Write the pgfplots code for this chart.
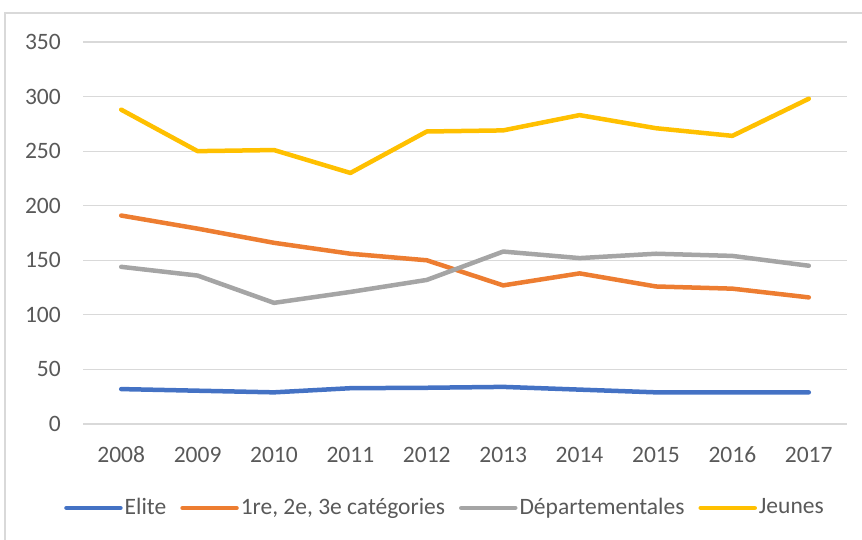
\documentclass[border=0pt]{standalone}
\usepackage{pgfplots}
\pgfplotsset{compat=1.18}
\usepackage{fontspec}
\setmainfont{Carlito}
\definecolor{cblue}{HTML}{4472C4}
\definecolor{corange}{HTML}{ED7D31}
\definecolor{cgray}{HTML}{A5A5A5}
\definecolor{cyellow}{HTML}{FFC000}
\definecolor{cgrid}{HTML}{D9D9D9}
\definecolor{ctext}{HTML}{595959}
\begin{document}
\fontsize{23.5bp}{28bp}\selectfont
\begin{tikzpicture}
\useasboundingbox (0bp,0bp) rectangle (862bp,540bp);
\draw[cgrid, line width=1.5bp] (5bp,0bp) -- (5bp,527bp) -- (862bp,527bp);
\begin{axis}[
  at={(83bp,116bp)}, anchor=south west,
  scale only axis, width=764bp, height=382bp,
  xmin=2007.5, xmax=2017.5, ymin=0, ymax=350,
  xtick={2008,...,2017}, ytick={0,50,...,350},
  /pgf/number format/assume math mode=true,
  /pgf/number format/1000 sep={},
  axis line style={draw=none},
  major tick length=0pt,
  ymajorgrids, grid style={cgrid, line width=1.2bp},
  tick label style={text=ctext, font=\fontsize{23.5bp}{28bp}\selectfont},
  yticklabel style={anchor=east, inner sep=0pt, xshift=-22bp},
  xticklabel style={anchor=center, inner sep=0pt, yshift=-31bp},
  every axis plot/.append style={line width=4.5bp, line join=round, line cap=round},
  legend columns=4,
  legend style={at={(0.4738,-0.2199)}, anchor=center, draw=none, fill=none,
    inner sep=0pt, outer sep=0pt,
    font=\fontsize{23.5bp}{28bp}\selectfont, text=ctext,
    nodes={inner xsep=2bp, inner ysep=0pt},
    /tikz/every even column/.append style={column sep=12bp}},
  legend image code/.code={\draw[#1] (0bp,0bp) -- (54bp,0bp);},
]
\addplot[cblue] coordinates {(2008,32) (2009,30.5) (2010,29) (2011,32.8) (2012,33.2) (2013,34) (2014,31.5) (2015,29) (2016,29) (2017,29)};
\addlegendentry{Elite}
\addplot[corange] coordinates {(2008,191) (2009,179) (2010,166) (2011,156) (2012,150) (2013,127) (2014,138) (2015,126) (2016,124) (2017,116)};
\addlegendentry{1re, 2e, 3e catégories}
\addplot[cgray] coordinates {(2008,144) (2009,136) (2010,111) (2011,121) (2012,132) (2013,158) (2014,152) (2015,156) (2016,154) (2017,145)};
\addlegendentry{Départementales}
\addplot[cyellow] coordinates {(2008,288) (2009,250) (2010,251) (2011,230) (2012,268) (2013,269) (2014,283) (2015,271) (2016,264) (2017,298)};
\addlegendentry{Jeunes}
\end{axis}
\end{tikzpicture}
\end{document}
